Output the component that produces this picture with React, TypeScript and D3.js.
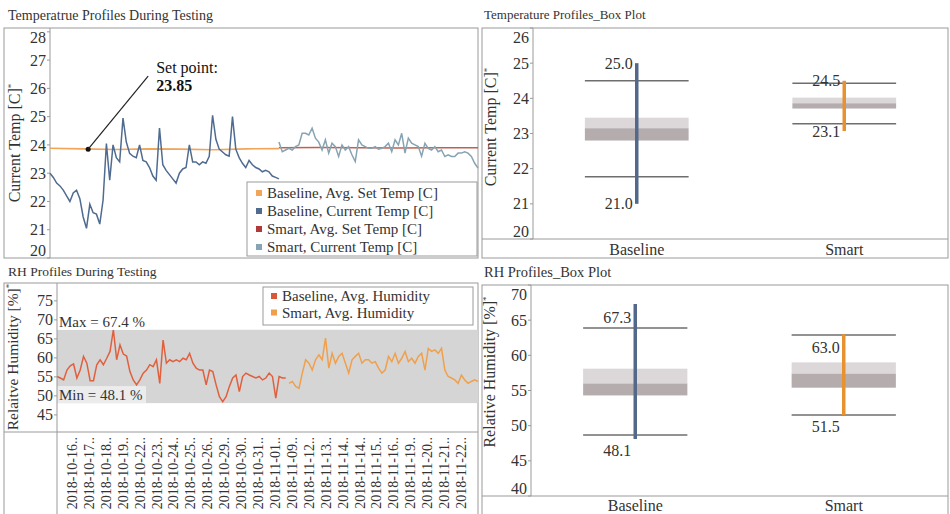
import React from 'react';
import * as d3 from 'd3';

const W = 950;
const H = 514;
const FONT = "'Liberation Serif', 'Times New Roman', Times, serif";
const TXT = '#333';
const GRID = '#9a9a9a';

// ---- temperature profiles (samples in time order) ----
const baselineTemp = [
  23.0, 22.85, 22.65, 22.55, 22.4, 22.2, 22.0, 22.3, 22.4, 22.1,
  21.45, 21.05, 21.9, 21.6, 21.55, 21.2, 22.05, 24.05, 22.75, 24.0,
  23.55, 23.4, 24.95, 24.1, 23.7, 23.6, 23.55, 24.0, 23.45, 23.4,
  23.2, 22.9, 22.75, 24.6, 23.3, 23.1, 22.95, 22.8, 22.65, 23.0,
  23.15, 23.2, 24.0, 23.4, 23.4, 23.3, 23.4, 23.35, 23.6, 25.05,
  24.2, 23.85, 23.75, 23.65, 23.6, 25.0, 23.85, 23.55, 23.35, 23.2,
  23.45, 23.3, 23.2, 23.15, 23.05, 23.1, 23.05, 22.9, 22.85, 22.8,
];
const smartTemp = [
  24.1, 23.76, 23.82, 23.88, 23.82, 23.94, 24.0, 24.41, 24.41, 24.35,
  24.59, 24.24, 24.1, 23.82, 24.18, 23.71, 24.06, 23.94, 23.59, 24.0,
  23.82, 23.94, 23.65, 23.41, 24.18, 24.0, 23.94, 23.88, 23.88, 23.94,
  23.85, 23.88, 23.94, 24.06, 23.76, 24.18, 24.0, 24.41, 23.71, 24.24,
  24.06, 24.0, 23.94, 23.6, 24.06, 23.88, 23.82, 23.94, 23.76, 23.82,
  23.59, 23.65, 23.59, 23.59, 23.71, 23.71, 23.76, 23.71, 23.59, 23.35,
  23.18,
];
const baselineSetTemp = [23.88, 23.86, 23.84, 23.86, 23.85, 23.83, 23.86, 23.87];
const smartSetTemp = [23.9, 23.91, 23.9, 23.89, 23.9, 23.9];
const setPoint = 23.85;
const tempTicks = [20, 21, 22, 23, 24, 25, 26, 27, 28];

// ---- relative humidity profiles ----
const baselineRH = [
  55.1, 54.7, 54.2, 56.8, 57.9, 58.4, 54.7, 56.8, 60.4, 58.6,
  54.0, 54.0, 58.2, 59.5, 58.2, 59.9, 61.7, 67.4, 59.5, 63.4,
  61.0, 60.5, 56.4, 54.2, 52.9, 54.2, 56.0, 56.8, 58.2, 57.7,
  59.5, 53.3, 64.7, 58.6, 59.5, 59.0, 59.5, 59.0, 59.9, 59.5,
  61.2, 58.6, 57.3, 56.8, 56.8, 52.9, 56.8, 56.4, 52.9, 49.8,
  48.5, 49.8, 52.5, 54.7, 55.5, 51.1, 55.1, 56.0, 55.5, 55.1,
  54.7, 55.1, 54.2, 54.7, 56.0, 55.1, 49.4, 55.1, 54.7, 54.7,
];
const smartRH = [
  53.3, 53.8, 52.5, 52.0, 56.0, 59.5, 58.6, 56.8, 59.5, 60.8,
  59.5, 65.2, 57.3, 61.2, 58.6, 60.4, 61.2, 58.6, 56.0, 59.5,
  60.4, 61.2, 58.6, 59.5, 59.5, 58.6, 59.0, 57.3, 56.0, 56.8,
  60.4, 59.0, 61.2, 58.6, 59.9, 61.7, 59.0, 59.9, 58.6, 60.4,
  61.2, 56.8, 62.5, 61.7, 62.1, 61.2, 62.5, 56.8, 55.1, 54.7,
  54.2, 53.3, 55.5, 54.2, 53.3, 53.8, 54.2, 53.8,
];
const rhMax = 67.4;
const rhMin = 48.1;
const rhTicks = [45, 50, 55, 60, 65, 70, 75];
const dateLabels = [
  '2018-10-16..', '2018-10-17..', '2018-10-18..', '2018-10-19..', '2018-10-22..',
  '2018-10-23..', '2018-10-24..', '2018-10-25..', '2018-10-26..', '2018-10-29..',
  '2018-10-30..', '2018-10-31..', '2018-11-01..', '2018-11-09..', '2018-11-12..',
  '2018-11-13..', '2018-11-14..', '2018-11-14..', '2018-11-15..', '2018-11-16..',
  '2018-11-19..', '2018-11-20..', '2018-11-21..', '2018-11-22..',
];

// ---- box plots ----
const boxCats = ['Baseline', 'Smart'];
const boxBarColors = ['#53698a', '#e8912f'];
const tempBoxMin = [21.0, 23.07];
const tempBoxMax = [25.0, 24.5];
const tempWhiskLow = [21.77, 23.28];
const tempWhiskHigh = [24.5, 24.43];
const tempQ1 = [22.8, 23.71];
const tempMed = [23.15, 23.86];
const tempQ3 = [23.45, 24.02];
const tempBoxTicks = [20, 21, 22, 23, 24, 25, 26];

const rhBoxMin = [48.1, 51.5];
const rhBoxMax = [67.3, 63.0];
const rhWhiskLow = [48.66, 51.5];
const rhWhiskHigh = [63.9, 62.9];
const rhQ1 = [54.3, 55.4];
const rhMed = [56.0, 57.4];
const rhQ3 = [58.1, 59.0];
const rhBoxTicks = [40, 45, 50, 55, 60, 65, 70];

const legendTemp = [
  { label: 'Baseline, Avg. Set Temp [C]', color: '#f0a55a' },
  { label: 'Baseline, Current Temp [C]', color: '#4f6b8f' },
  { label: 'Smart, Avg. Set Temp [C]', color: '#b03a3a' },
  { label: 'Smart, Current Temp [C]', color: '#86a4b3' },
];
const legendRH = [
  { label: 'Baseline, Avg. Humidity', color: '#d9583a' },
  { label: 'Smart, Avg. Humidity', color: '#f0a04b' },
];

function YAxis({ scale, ticks, x, top, bottom }) {
  return (
    <g>
      <line x1={x} x2={x} y1={top} y2={bottom} stroke={GRID} />
      {ticks.map((t) => {
        const y = scale(t);
        const ly = Math.max(top + 9, Math.min(bottom - 8, y));
        return (
          <g key={t}>
            <line x1={x - 3} x2={x} y1={y} y2={y} stroke={GRID} />
            <text x={x - 4} y={ly} dy="0.35em" textAnchor="end" fontSize={16} fill={TXT}>
              {t}
            </text>
          </g>
        );
      })}
    </g>
  );
}

function AxisTitle({ x, y, text, size = 16 }) {
  return (
    <text transform={`translate(${x},${y}) rotate(-90)`} textAnchor="middle" fontSize={size} fill={TXT}>
      {text}
      <tspan fontSize={9} dy={-6}>*</tspan>
    </text>
  );
}

function BoxPlot({ x0, y0, x1, y1, axisX, sepY, catY, shiftMax, shiftMin, domain, ticks, mins, maxs, wLow, wHigh, q1, med, q3 }) {
  const y = d3.scaleLinear().domain(domain).range([sepY, y0]);
  const xb = d3.scaleBand().domain(boxCats).range([axisX, x1]);
  const bw = xb.bandwidth() * 0.5;
  const fmt = d3.format('.1f');
  return (
    <g>
      <rect x={x0} y={y0} width={x1 - x0} height={y1 - y0} fill="none" stroke={GRID} />
      <line x1={x0} x2={x1} y1={sepY} y2={sepY} stroke={GRID} />
      {boxCats.map((c, i) => {
        const cx = xb(c) + xb.bandwidth() / 2;
        return (
          <g key={c}>
            <rect x={cx - bw / 2} y={y(q3[i])} width={bw} height={y(med[i]) - y(q3[i])} fill="#dcd8d9" />
            <rect x={cx - bw / 2} y={y(med[i])} width={bw} height={y(q1[i]) - y(med[i])} fill="#b5acae" />
            <line x1={cx - bw / 2} x2={cx + bw / 2} y1={y(wHigh[i])} y2={y(wHigh[i])} stroke="#6e6e6e" strokeWidth={1.5} />
            <line x1={cx - bw / 2} x2={cx + bw / 2} y1={y(wLow[i])} y2={y(wLow[i])} stroke="#6e6e6e" strokeWidth={1.5} />
            <line x1={cx} x2={cx} y1={y(maxs[i])} y2={y(mins[i])} stroke={boxBarColors[i]} strokeWidth={3.5} />
            <text x={cx - 4} y={y(maxs[i]) + shiftMax} dy="0.35em" textAnchor="end" fontSize={16} fill={TXT}>{fmt(maxs[i])}</text>
            <text x={cx - 4} y={y(mins[i]) + shiftMin} dy="0.35em" textAnchor="end" fontSize={16} fill={TXT}>{fmt(mins[i])}</text>
            <text x={cx} y={catY} dy="0.35em" textAnchor="middle" fontSize={16} fill={TXT}>{c}</text>
          </g>
        );
      })}
      <YAxis scale={y} ticks={ticks} x={axisX} top={y0} bottom={sepY} />
    </g>
  );
}

export default function App() {
  // --- temperature line chart ---
  const tx = d3.scaleLinear().domain([0, 129]).range([50, 478]);
  const ty = d3.scaleLinear().domain([20, 28.1]).range([258, 29]);
  const sOff = baselineTemp.length - 1;
  const tLine = (off) => d3.line<number>().x((d, i) => tx(off + i)).y((d) => ty(d));
  const setLine = (start, end, n) =>
    d3.line<number>().x((d, i) => tx(start + (i * (end - start)) / (n - 1))).y((d) => ty(d));

  // --- humidity line chart ---
  const rx = d3.scaleLinear().domain([0, 127]).range([57, 478]);
  const ry = d3.scaleLinear().domain([40.5, 79.7]).range([432, 283]);
  const rLine = (off) => d3.line<number>().x((d, i) => rx(off + i)).y((d) => ry(d));
  const dx = d3.scalePoint<number>().domain(dateLabels.map((_, i) => i)).range([72, 461]);

  const spX = tx(11.5);
  const spY = ty(setPoint);

  return (
    <svg width={W} height={H} fontFamily={FONT} style={{ position: 'absolute', left: 0, top: 0, fontFamily: FONT }}>
      <rect width={W} height={H} fill="#fff" />

      {/* ---------- Temperature profiles during testing ---------- */}
      <text x={8} y={20} fontSize={14} fill={TXT}>Temperatrue Profiles During Testing</text>
      <rect x={4} y={28} width={474} height={230} fill="none" stroke={GRID} />
      <YAxis scale={ty} ticks={tempTicks} x={50} top={28} bottom={258} />
      <AxisTitle x={20} y={143} text="Current Temp [C]" />
      <path d={setLine(0, sOff, baselineSetTemp.length)(baselineSetTemp)} fill="none" stroke="#f0a55a" strokeWidth={1.6} />
      <path d={setLine(sOff, 129, smartSetTemp.length)(smartSetTemp)} fill="none" stroke="#c0614f" strokeWidth={1.4} />
      <path d={tLine(0)(baselineTemp)} fill="none" stroke="#4f6b8f" strokeWidth={1.5} />
      <path d={tLine(sOff)(smartTemp)} fill="none" stroke="#86a4b3" strokeWidth={1.5} />
      <circle cx={spX} cy={spY} r={2.5} fill="#111" />
      <line x1={spX} y1={spY} x2={spX + 60} y2={spY - 73} stroke="#222" strokeWidth={1.2} />
      <text x={spX + 68} y={spY - 76} fontSize={16} fill="#111">Set point:</text>
      <text x={spX + 68} y={spY - 58} fontSize={16} fontWeight="bold" fill="#111">{setPoint}</text>
      <rect x={247} y={182} width={230} height={74} fill="#fff" stroke={GRID} />
      {legendTemp.map((d, i) => (
        <g key={d.label}>
          <rect x={256} y={190 + i * 18} width={6} height={6} fill={d.color} />
          <text x={267} y={193 + i * 18} dy="0.35em" fontSize={15} fill={TXT}>{d.label}</text>
        </g>
      ))}

      {/* ---------- Temperature box plot ---------- */}
      <text x={484} y={19} fontSize={13} fill={TXT}>Temperature Profiles_Box Plot</text>
      <BoxPlot x0={482} y0={28} x1={948} y1={258} axisX={533} sepY={239} catY={249}
        shiftMax={0} shiftMin={0} domain={[20, 26]}
        ticks={tempBoxTicks} mins={tempBoxMin} maxs={tempBoxMax} wLow={tempWhiskLow} wHigh={tempWhiskHigh}
        q1={tempQ1} med={tempMed} q3={tempQ3} />
      <AxisTitle x={496} y={127} text="Current Temp [C]" />

      {/* ---------- RH profiles during testing ---------- */}
      <text x={8} y={276} fontSize={13.5} fill={TXT}>RH Profiles During Testing</text>
      <rect x={4} y={283} width={474} height={240} fill="none" stroke={GRID} />
      <rect x={57} y={ry(rhMax)} width={478 - 57} height={ry(rhMin) - ry(rhMax)} fill="#d5d5d5" />
      <path d={rLine(0)(baselineRH)} fill="none" stroke="#e0603e" strokeWidth={1.5} />
      <path d={rLine(baselineRH.length)(smartRH)} fill="none" stroke="#f0a04b" strokeWidth={1.5} />
      <rect x={57} y={ry(rhMax) - 17} width={90} height={17} fill="#fff" />
      <text x={59} y={ry(rhMax) - 8} dy="0.35em" fontSize={15} fill={TXT}>Max = {rhMax} %</text>
      <rect x={57} y={ry(rhMin) - 17} width={89} height={17} fill="#ececec" />
      <text x={59} y={ry(rhMin) - 8} dy="0.35em" fontSize={15} fill={TXT}>Min = {rhMin} %</text>
      <line x1={4} x2={478} y1={432} y2={432} stroke={GRID} />
      <YAxis scale={ry} ticks={rhTicks} x={57} top={283} bottom={432} />
      <line x1={57} x2={57} y1={432} y2={514} stroke={GRID} />
      <AxisTitle x={18} y={357} text="Relaitve Humidity [%]" size={15.5} />
      <rect x={263} y={287} width={210} height={38} fill="#fff" stroke={GRID} />
      {legendRH.map((d, i) => (
        <g key={d.label}>
          <rect x={271} y={293 + i * 16.5} width={6} height={6} fill={d.color} />
          <text x={282} y={296 + i * 16.5} dy="0.35em" fontSize={15} fill={TXT}>{d.label}</text>
        </g>
      ))}
      {dateLabels.map((d, i) => (
        <text key={i} transform={`translate(${dx(i) + 5},437) rotate(-90)`} textAnchor="end" fontSize={14} fill={TXT}>
          {d}
        </text>
      ))}

      {/* ---------- RH box plot ---------- */}
      <text x={484} y={277} fontSize={14.5} fill={TXT}>RH Profiles_Box Plot</text>
      <BoxPlot x0={482} y0={285} x1={948} y1={523} axisX={531} sepY={496} catY={505}
        shiftMax={13} shiftMin={11} domain={[40, 70]}
        ticks={rhBoxTicks} mins={rhBoxMin} maxs={rhBoxMax} wLow={rhWhiskLow} wHigh={rhWhiskHigh}
        q1={rhQ1} med={rhMed} q3={rhQ3} />
      <AxisTitle x={495} y={372} text="Relative Humidity [%]" />
    </svg>
  );
}
